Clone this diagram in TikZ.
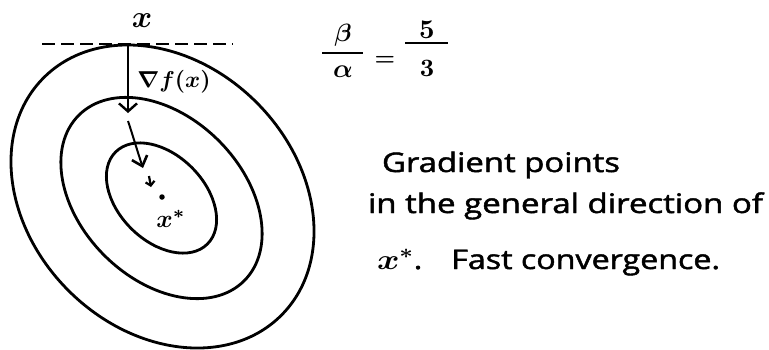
\documentclass[tikz,border=0pt]{standalone}
\usepackage{fontspec}
\setmainfont{Open Sans}[BoldFont=Open Sans,BoldFeatures={FakeBold=1.6}]
\usetikzlibrary{arrows.meta}
\newcommand\hwmath[2]{\scalebox{#1}{\boldmath$#2$}}
\begin{document}
\begin{tikzpicture}[x=1pt,y=-1pt,
  contour/.style={line width=2.8pt},
  shaft/.style={line width=1.6pt},
  bigbarb/.style={-{Straight Barb[length=8pt,width=18pt,line width=2.4pt]}},
  midbarb/.style={-{Straight Barb[length=9pt,width=16pt,line width=2.6pt]}},
  smallbarb/.style={-{Straight Barb[length=4pt,width=9pt,line width=2.2pt]}},
  tangent/.style={line width=2.4pt,dash pattern=on 13pt off 6pt},
  fracbar/.style={line width=2.4pt},
  lab/.style={inner sep=0pt,outer sep=0pt},
  txt/.style={inner sep=0pt,outer sep=0pt,anchor=base west,font=\fontsize{27}{30}\selectfont\bfseries}]
\useasboundingbox (0,0) rectangle (769,349);

% level sets
\coordinate (c1) at (162.5,196.5);
\coordinate (c2) at (161.5,198);
\draw[contour, rotate around={-45:(c1)}] (c1) ellipse [x radius=168, y radius=133];
\draw[contour, rotate around={-45:(c2)}] (c2) ellipse [x radius=117, y radius=81];
\draw[contour, rotate around={-45:(c2)}] (c2) ellipse [x radius=65, y radius=43];

% tangent line and point x
\coordinate (tl) at (42,44);
\coordinate (tr) at (233,44);
\draw[tangent] (tl) -- (tr);
\node[lab] (xlab) at (142,21) {\hwmath{3.1}{x}};

% gradient steps
\coordinate (p0) at (128,45);
\coordinate (p1) at (128,113);
\coordinate (q0) at (128,121);
\coordinate (q1) at (143,168);
\coordinate (r0) at (149,176);
\coordinate (r1) at (151,187);
\draw[shaft,bigbarb] (p0) -- (p1);
\draw[shaft,line width=2pt,midbarb] (q0) .. controls (133,136) and (137,150) .. (q1);
\draw[shaft,line width=2.2pt,smallbarb] (r0) -- (r1);
\node[lab,circle,fill=black,minimum size=5.5pt] (dot) at (162,197) {};

\node[lab] (grad) at (174,82) {\hwmath{2.3}{\nabla f(x)}};
\node[lab] (xstar) at (171,219) {\hwmath{2.5}{x^{*}}};

% condition number
\node[lab] (beta) at (343,35) {\hwmath{2.5}{\beta}};
\node[lab] (alpha) at (343,72) {\hwmath{2.6}{\alpha}};
\draw[fracbar] (322,53) -- (363,53);
\node[lab] (eq) at (385,61) {\hwmath{2.3}{=}};
\node[lab] (five) at (427,30) {\hwmath{2.7}{5}};
\node[lab] (three) at (427,68) {\hwmath{2.5}{3}};
\draw[fracbar] (405,43) -- (448,43);

% comment
\node[txt] (l1) at (382,172) {\resizebox{238pt}{\height}{Gradient points}};
\node[txt] (l2) at (368,213) {\resizebox{395pt}{\height}{in the general direction of}};
\node[txt] (l3) at (377,269) {\resizebox{343pt}{\height}{\hwmath{1.15}{x^{*}}.\hspace{0.9em}Fast convergence.}};
\end{tikzpicture}
\end{document}
